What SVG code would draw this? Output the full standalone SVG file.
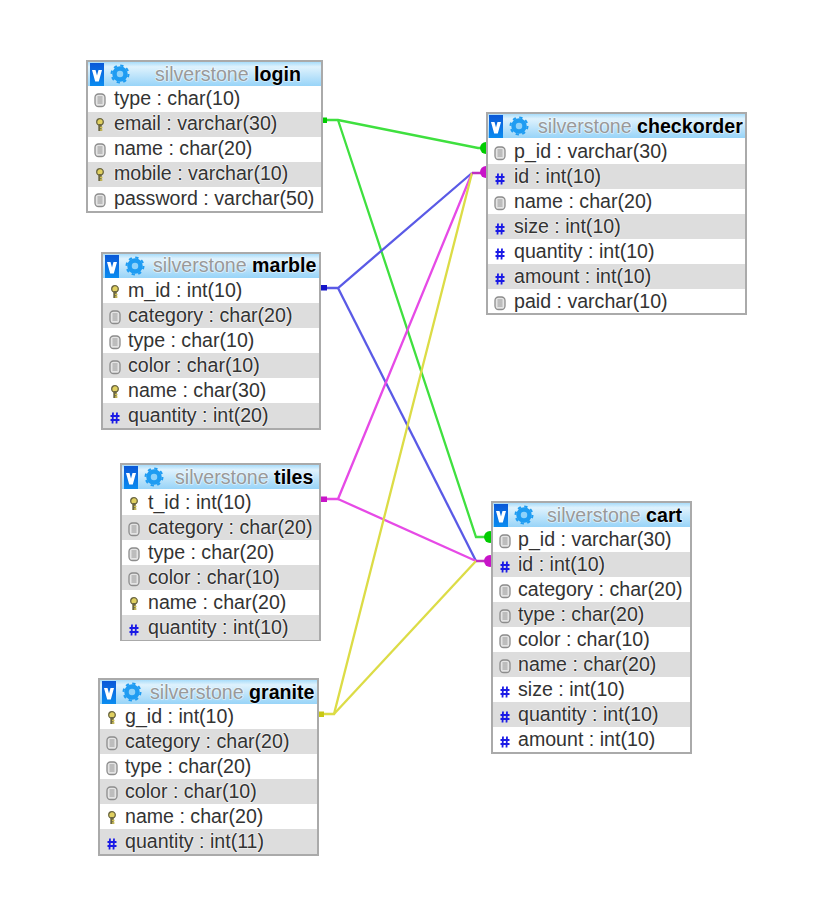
<svg xmlns="http://www.w3.org/2000/svg" width="818" height="924" viewBox="0 0 818 924">
<style>
text{font-family:"Liberation Sans",Arial,sans-serif;font-size:19.6px;fill:#333;paint-order:stroke;stroke:#fff;stroke-width:1.6px;stroke-opacity:.55;stroke-linejoin:round}
.g{fill:#999}.b{font-weight:bold;fill:#000}
.box{fill:#fff;stroke:#aaa;stroke-width:2}
.alt{fill:#ddd}
.c{fill:none;stroke-width:2.300}
</style>
<defs>
<linearGradient id="hg" x1="0" y1="0" x2="0" y2="1"><stop offset="0" stop-color="#a8dcfa"/><stop offset=".2" stop-color="#dff2fd"/><stop offset="1" stop-color="#98d4f8"/></linearGradient>
<linearGradient id="vg" x1="0" y1="0" x2="0" y2="1"><stop offset="0" stop-color="#0a58d8"/><stop offset="1" stop-color="#0a8cf0"/></linearGradient>
<g id="hd"><rect x="1" y="1" width="14" height="23" fill="url(#vg)"/><path d="M3 8H6.500L8 13.500L9.500 8H13L9.800 19.500H6.200Z" fill="#fff"/><circle cx="31" cy="12" r="5.500" fill="#8fd2fa" stroke="#1f9cf2" stroke-width="4.500"/><circle cx="31" cy="12" r="8.500" fill="none" stroke="#1f9cf2" stroke-width="2" stroke-dasharray="3.300 3.370"/></g>
<g id="doc"><rect x="-5" y="-6" width="10" height="12.500" rx="3.500" fill="#e4e4e4" stroke="#8c8c8c" stroke-width="1.300"/><path d="M-2.500-3H2.500M-2.500-1H2.500M-2.500 1H2.500M-2.500 3H2.500" stroke="#8c8c8c" stroke-width=".9"/></g>
<g id="key"><circle cx="0" cy="-3" r="3.300" fill="#e0d060" stroke="#6b6640" stroke-width="1.300"/><path d="M0-1V6" stroke="#6b6640" stroke-width="3.400"/><path d="M0 2.500H2.500M0 5H2.500" stroke="#d0c050" stroke-width="1.400"/></g>
<g id="hash"><path d="M-2-5.500L-2.500 5.500M2-5.500L1.500 5.500M-4.500-2H4.500M-4.500 2H4.500" stroke="#1a1ae6" stroke-width="1.800" fill="none"/></g>
</defs>
<g id="connectors">
<path class="c" stroke="#3fe03f" d="M326 120H338L478 148H490"/>
<path class="c" stroke="#3fe03f" d="M338 120L476 537H490"/>
<path class="c" stroke="#5a5ae6" d="M326 288H338L472 173"/>
<path class="c" stroke="#5a5ae6" d="M338 288L476 561"/>
<path class="c" stroke="#e64ae6" d="M326 499H338L472 173"/>
<path class="c" stroke="#e64ae6" d="M338 499L476 561"/>
<path class="c" stroke="#dcdc46" d="M322 714H334L472 173"/>
<path class="c" stroke="#dcdc46" d="M334 714L476 561"/>
<path class="c" stroke="#c030c0" d="M472 173H490M476 561H490"/>
<rect x="321" y="117.500" width="6" height="5.500" fill="#0c0"/>
<rect x="321" y="285" width="6" height="5.500" fill="#1414c8"/>
<rect x="321" y="496.500" width="6" height="5.500" fill="#c814c8"/>
<rect x="318" y="711.500" width="6" height="5.500" fill="#c8c814"/>
<circle cx="486" cy="148" r="6" fill="#0c0"/>
<circle cx="486" cy="172" r="6" fill="#c814c8"/>
<circle cx="490" cy="537" r="6" fill="#0c0"/>
<circle cx="490" cy="561" r="6" fill="#c814c8"/>
</g>
<g id="login">
<rect class="box" x="87" y="61" width="235" height="151"/>
<rect x="88" y="62" width="233" height="24" fill="url(#hg)"/><use href="#hd" x="89" y="62"/>
<text x="155" y="81"><tspan class="g">silverstone </tspan><tspan class="b">login</tspan></text>
<rect class="alt" x="88" y="112" width="233" height="25"/><rect class="alt" x="88" y="162" width="233" height="25"/>
<use href="#doc" x="100" y="100"/><use href="#key" x="100" y="125"/><use href="#doc" x="100" y="150"/><use href="#key" x="100" y="175"/><use href="#doc" x="100" y="200"/>
<text x="114" y="105">type : char(10)</text><text x="114" y="130">email : varchar(30)</text><text x="114" y="155">name : char(20)</text><text x="114" y="180">mobile : varchar(10)</text><text x="114" y="205">password : varchar(50)</text>
</g>
<g id="marble">
<rect class="box" x="102" y="253" width="218" height="176"/>
<rect x="103" y="254" width="216" height="24" fill="url(#hg)"/><use href="#hd" x="104" y="254"/>
<text x="153" y="272"><tspan class="g">silverstone </tspan><tspan class="b">marble</tspan></text>
<rect class="alt" x="103" y="303" width="216" height="25"/><rect class="alt" x="103" y="353" width="216" height="25"/><rect class="alt" x="103" y="403" width="216" height="25"/>
<use href="#key" x="115" y="292"/><use href="#doc" x="115" y="317"/><use href="#doc" x="115" y="342"/><use href="#doc" x="115" y="367"/><use href="#key" x="115" y="392"/><use href="#hash" x="115" y="418"/>
<text x="128" y="297">m_id : int(10)</text><text x="128" y="322">category : char(20)</text><text x="128" y="347">type : char(10)</text><text x="128" y="372">color : char(10)</text><text x="128" y="397">name : char(30)</text><text x="128" y="422">quantity : int(20)</text>
</g>
<g id="tiles">
<rect class="box" x="121" y="464" width="199" height="176"/>
<rect x="122" y="465" width="197" height="24" fill="url(#hg)"/><use href="#hd" x="123" y="465"/>
<text x="175" y="484"><tspan class="g">silverstone </tspan><tspan class="b">tiles</tspan></text>
<rect class="alt" x="122" y="515" width="197" height="25"/><rect class="alt" x="122" y="565" width="197" height="25"/><rect class="alt" x="122" y="615" width="197" height="25"/>
<use href="#key" x="134" y="504"/><use href="#doc" x="134" y="529"/><use href="#doc" x="134" y="554"/><use href="#doc" x="134" y="579"/><use href="#key" x="134" y="604"/><use href="#hash" x="134" y="630"/>
<text x="148" y="509">t_id : int(10)</text><text x="148" y="534">category : char(20)</text><text x="148" y="559">type : char(20)</text><text x="148" y="584">color : char(10)</text><text x="148" y="609">name : char(20)</text><text x="148" y="634">quantity : int(10)</text>
</g>
<g id="granite">
<rect class="box" x="99" y="679" width="219" height="176"/>
<rect x="100" y="680" width="217" height="24" fill="url(#hg)"/><use href="#hd" x="101" y="680"/>
<text x="150" y="699"><tspan class="g">silverstone </tspan><tspan class="b">granite</tspan></text>
<rect class="alt" x="100" y="729" width="217" height="25"/><rect class="alt" x="100" y="779" width="217" height="25"/><rect class="alt" x="100" y="829" width="217" height="25"/>
<use href="#key" x="112" y="718"/><use href="#doc" x="112" y="743"/><use href="#doc" x="112" y="768"/><use href="#doc" x="112" y="793"/><use href="#key" x="112" y="818"/><use href="#hash" x="112" y="844"/>
<text x="125" y="723">g_id : int(10)</text><text x="125" y="748">category : char(20)</text><text x="125" y="773">type : char(20)</text><text x="125" y="798">color : char(10)</text><text x="125" y="823">name : char(20)</text><text x="125" y="848">quantity : int(11)</text>
</g>
<g id="checkorder">
<rect class="box" x="487" y="113" width="259" height="201"/>
<rect x="488" y="114" width="257" height="24" fill="url(#hg)"/><use href="#hd" x="488" y="114"/>
<text x="538" y="133"><tspan class="g">silverstone </tspan><tspan class="b">checkorder</tspan></text>
<rect class="alt" x="488" y="164" width="257" height="25"/><rect class="alt" x="488" y="214" width="257" height="25"/><rect class="alt" x="488" y="264" width="257" height="25"/>
<use href="#doc" x="500" y="153"/><use href="#hash" x="500" y="179"/><use href="#doc" x="500" y="203"/><use href="#hash" x="500" y="229"/><use href="#hash" x="500" y="254"/><use href="#hash" x="500" y="279"/><use href="#doc" x="500" y="303"/>
<text x="514" y="158">p_id : varchar(30)</text><text x="514" y="183">id : int(10)</text><text x="514" y="208">name : char(20)</text><text x="514" y="233">size : int(10)</text><text x="514" y="258">quantity : int(10)</text><text x="514" y="283">amount : int(10)</text><text x="514" y="308">paid : varchar(10)</text>
</g>
<g id="cart">
<rect class="box" x="492" y="502" width="199" height="251"/>
<rect x="493" y="503" width="197" height="24" fill="url(#hg)"/><use href="#hd" x="493" y="503"/>
<text x="547" y="522"><tspan class="g">silverstone </tspan><tspan class="b">cart</tspan></text>
<rect class="alt" x="493" y="552" width="197" height="25"/><rect class="alt" x="493" y="602" width="197" height="25"/><rect class="alt" x="493" y="652" width="197" height="25"/><rect class="alt" x="493" y="702" width="197" height="25"/>
<use href="#doc" x="505" y="541"/><use href="#hash" x="505" y="567"/><use href="#doc" x="505" y="591"/><use href="#doc" x="505" y="616"/><use href="#doc" x="505" y="641"/><use href="#doc" x="505" y="666"/><use href="#hash" x="505" y="692"/><use href="#hash" x="505" y="717"/><use href="#hash" x="505" y="742"/>
<text x="518" y="546">p_id : varchar(30)</text><text x="518" y="571">id : int(10)</text><text x="518" y="596">category : char(20)</text><text x="518" y="621">type : char(20)</text><text x="518" y="646">color : char(10)</text><text x="518" y="671">name : char(20)</text><text x="518" y="696">size : int(10)</text><text x="518" y="721">quantity : int(10)</text><text x="518" y="746">amount : int(10)</text>
</g>
</svg>
